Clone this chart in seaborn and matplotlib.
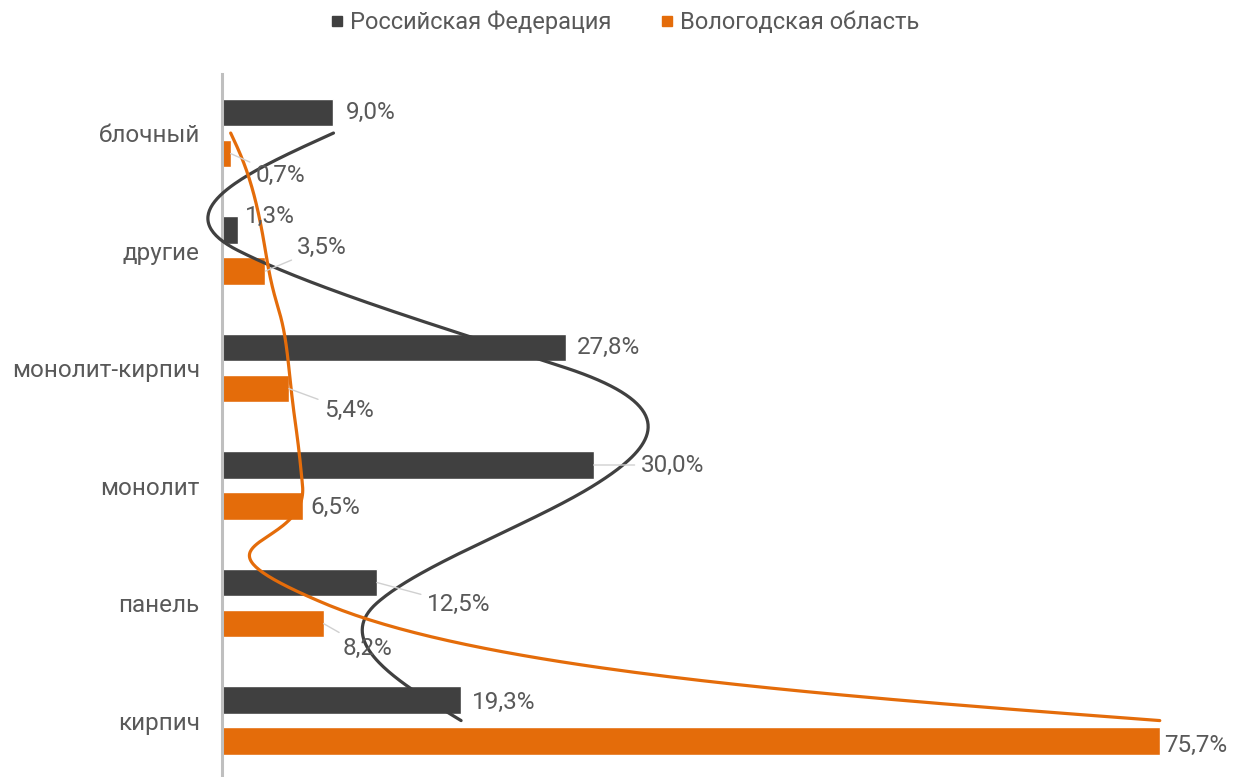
import numpy as np
import pandas as pd
import seaborn as sns
import matplotlib.pyplot as plt
from matplotlib.lines import Line2D

# ---------------- data ----------------
categories = ["блочный", "другие", "монолит-кирпич", "монолит", "панель", "кирпич"]
series_names = ["Российская Федерация", "Вологодская область"]
rf_values = [9.0, 1.3, 27.8, 30.0, 12.5, 19.3]
vologda_values = [0.7, 3.5, 5.4, 6.5, 8.2, 75.7]

# ---------------- style ----------------
colors = ["#404040", "#E46C0A"]
text_color = "#595959"
curve_tension = [(2.0, 1.0), (1.1, 1.7)]
# label offsets in pixels (dx, dy; dy positive = down) from bar end, and leader flag
rf_label_offsets = [(12, 0, False), (7, -14, False), (10, 0, False), (47, 0, True), (50, 22, True), (11, 2, False)]
vol_label_offsets = [(25, 22, True), (32, -24, True), (35, 22, True), (8, 1, False), (19, 25, True), (4, 4, False)]

sns.set_theme(style="white")
plt.rcParams["font.family"] = ["Roboto", "DejaVu Sans"]

df = pd.DataFrame({
    "category": categories * 2,
    "value": rf_values + vologda_values,
    "series": [series_names[0]] * len(categories) + [series_names[1]] * len(categories),
})

fig = plt.figure(figsize=(12.43, 7.77), dpi=100)
ax = fig.add_axes([0.1786, -0.003, 0.7973, 0.9074])

sns.barplot(data=df, y="category", x="value", hue="series", order=categories,
            hue_order=series_names, palette=colors, orient="h", width=0.70, gap=0.33,
            saturation=1, legend=False, ax=ax, errorbar=None)

ax.set_xlim(0, 80)
ax.set_ylim(len(categories) - 0.5, -0.5)
ax.set_xlabel("")
ax.set_ylabel("")
ax.set_xticks([])
ax.tick_params(axis="y", length=0, pad=16, labelsize=17.5, labelcolor=text_color)
for s in ["top", "right", "bottom"]:
    ax.spines[s].set_visible(False)
ax.spines["left"].set_color("#bfbfbf")
ax.spines["left"].set_linewidth(2.2)
ax.grid(False)


def smooth_curve(xs, ys, kx=1.8, ky=1.0, n=80):
    P = np.column_stack([xs, ys]).astype(float)
    m = len(P)
    T = np.zeros_like(P)
    for i in range(1, m - 1):
        d = (P[i + 1] - P[i - 1]) / 2
        T[i] = [kx * d[0], ky * d[1]]
    T[0] = (3 * (P[1] - P[0]) - T[1]) / 2
    T[-1] = (3 * (P[-1] - P[-2]) - T[-2]) / 2
    out = []
    t = np.linspace(0, 1, n)
    h00 = 2 * t**3 - 3 * t**2 + 1
    h10 = t**3 - 2 * t**2 + t
    h01 = -2 * t**3 + 3 * t**2
    h11 = t**3 - t**2
    for i in range(m - 1):
        seg = (h00[:, None] * P[i] + h10[:, None] * T[i]
               + h01[:, None] * P[i + 1] + h11[:, None] * T[i + 1])
        out.append(seg if i == 0 else seg[1:])
    return np.vstack(out)


ypos = np.arange(len(categories))
for vals, col, (kx, ky) in [(rf_values, colors[0], curve_tension[0]),
                            (vologda_values, colors[1], curve_tension[1])]:
    c = smooth_curve(vals, ypos, kx=kx, ky=ky)
    ax.plot(c[:, 0], c[:, 1], color=col, lw=2.3, solid_capstyle="round", zorder=5, clip_on=False)

# data labels
bars = ax.patches
n = len(categories)
for j, (vals, offs) in enumerate([(rf_values, rf_label_offsets), (vologda_values, vol_label_offsets)]):
    for i, v in enumerate(vals):
        bar = bars[j * n + i]
        yc = bar.get_y() + bar.get_height() / 2
        dx, dy, leader = offs[i]
        label = f"{v:.1f}%".replace(".", ",")
        kw = {}
        if leader:
            kw["arrowprops"] = dict(arrowstyle="-", color="#d0d0d0", lw=1.0, shrinkA=2, shrinkB=0)
        ax.annotate(label, xy=(v, yc), xytext=(dx, -dy), textcoords="offset pixels",
                    ha="left", va="center", fontsize=17.5, color=text_color, zorder=6,
                    annotation_clip=False, **kw)

# legend
handles = [Line2D([0], [0], marker="s", linestyle="none", markersize=7,
                  markerfacecolor=c, markeredgecolor=c) for c in colors]
fig.legend(handles, series_names, loc="center", bbox_to_anchor=(0.502, 0.971), ncol=2,
           frameon=False, fontsize=17, labelcolor=text_color, handletextpad=0.2,
           columnspacing=2.0, handlelength=0.7)

fig.savefig("out.png", dpi=100)
